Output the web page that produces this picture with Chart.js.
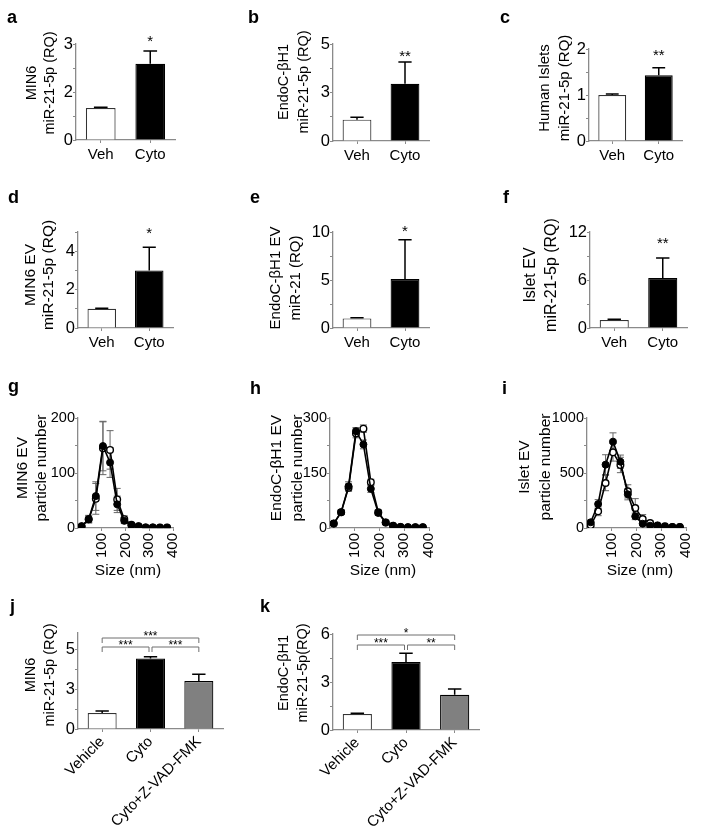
<!DOCTYPE html>
<html><head><meta charset="utf-8">
<script src="https://cdn.jsdelivr.net/npm/chart.js@4.4.1/dist/chart.umd.min.js"></script>
<style>
html,body{margin:0;padding:0;background:#fff}
body{width:704px;height:835px;position:relative;overflow:hidden;font-family:"Liberation Sans",Arial,sans-serif;color:#000}
.box{position:absolute}
.box canvas{display:block}
.lbl{position:absolute;font-weight:bold;font-size:18px;line-height:18px}
.yt{position:absolute;transform:rotate(-90deg);white-space:nowrap;text-align:center}
.xt{position:absolute;white-space:nowrap;text-align:center;transform:translate(-50%,-50%)}
</style></head><body>
<script>
// ---------------- DATA ----------------
const twoGroups = ["Veh", "Cyto"];
const threeGroups = ["Vehicle", "Cyto", "Cyto+Z-VAD-FMK"];

// a: MIN6
const min6Val = [1.0, 2.38];
const min6Err = [0.02, 0.40];
// b: EndoC-βH1
const endoVal = [1.1, 2.95];
const endoErr = [0.12, 1.12];
// c: Human islets
const isletVal = [1.0, 1.43];
const isletErr = [0.02, 0.16];
// d: MIN6 EV
const min6EvVal = [1.0, 3.0];
const min6EvErr = [0.03, 1.2];
// e: EndoC-βH1 EV
const endoEvVal = [1.0, 5.1];
const endoEvErr = [0.08, 4.1];
// f: Islet EV
const isletEvVal = [1.0, 6.25];
const isletEvErr = [0.1, 2.5];

// g-i: particle size distribution
const sizeBins = [15, 45, 75, 105, 135, 165, 195, 225, 255, 285, 315, 345, 375];
const gCyto    = [3, 16, 58, 149, 119, 43, 13, 5, 3, 1, 1, 0.5, 0.5];
const gCytoErr = [2, 6, 26, 45, 27, 15, 5, 2, 1, 0.5, 0.5, 0.3, 0.3];
const gVeh     = [3, 16, 53, 145, 142, 52, 16, 6, 3, 1, 1, 1, 1];
const gVehErr  = [2, 7, 28, 48, 35, 20, 6, 3, 1, 0.5, 0.5, 0.3, 0.3];
const hCyto    = [12, 43, 114, 264, 228, 107, 41, 15, 6, 3, 2, 2, 2];
const hCytoErr = [4, 6, 12, 10, 12, 10, 6, 4, 2, 1, 1, 1, 1];
const hVeh     = [12, 43, 110, 258, 271, 125, 43, 15, 6, 3, 2, 2, 2];
const hVehErr  = [4, 6, 10, 12, 10, 8, 6, 4, 2, 1, 1, 1, 1];
const iCyto    = [52, 218, 576, 785, 603, 306, 106, 39, 21, 21, 12, 9, 9];
const iCytoErr = [20, 40, 90, 80, 60, 50, 30, 15, 8, 6, 5, 4, 4];
const iVeh     = [27, 152, 409, 688, 573, 333, 182, 82, 45, 22, 15, 10, 8];
const iVehErr  = [15, 40, 70, 80, 70, 60, 85, 40, 20, 10, 6, 5, 4];

// j, k: caspase inhibition
const jVal = [1.0, 4.4, 3.0];
const jErr = [0.12, 0.12, 0.42];
const kVal = [1.0, 4.25, 2.2];
const kErr = [0.05, 0.55, 0.36];

// significance
const starsA = ["", "*"], starsB = ["", "**"], starsC = ["", "**"];
const starsD = ["", "*"], starsE = ["", "*"], starsF = ["", "**"];
const jBrackets = [[0, 2, "***", 1], [0, 1, "***", 0], [1, 2, "***", 0]];
const kBrackets = [[0, 2, "*", 1], [0, 1, "***", 0], [1, 2, "**", 0]];

// ticks
const ticksA = [0, 0.75, 1.5, 2.25, 3],   labA = ["0", "", "2", "", "3"];
const ticksB = [0, 1.25, 2.5, 3.75, 5],   labB = ["0", "", "3", "", "5"];
const ticksC = [0, 0.5, 1, 1.5, 2],       labC = ["0", "", "1", "", "2"];
const ticksD = [0, 1, 2, 3, 4, 5],        labD = ["0", "", "2", "", "4", ""];
const ticksE = [0, 2.5, 5, 7.5, 10],      labE = ["0", "", "5", "", "10"];
const ticksF = [0, 3, 6, 9, 12],          labF = ["0", "", "6", "", "12"];
const ticksG = [0, 50, 100, 150, 200],    labG = ["0", "", "100", "", "200"];
const ticksH = [0, 75, 150, 225, 300],    labH = ["0", "", "150", "", "300"];
const ticksI = [0, 250, 500, 750, 1000],  labI = ["0", "", "500", "", "1000"];
const ticksJ = [0, 1.25, 2.5, 3.75, 5],   labJ = ["0", "", "3", "", "5"];
const ticksK = [0, 1.5, 3, 4.5, 6],       labK = ["0", "", "3", "", "6"];
const sizeTicks = [100, 200, 300, 400];

// ---------------- STYLE / HELPERS ----------------
Chart.defaults.font.family = '"Liberation Sans", Arial, sans-serif';
Chart.defaults.color = '#000';
const AX = '#8a8a8a';
const FONT = '"Liberation Sans", Arial, sans-serif';

function yScale(max, ticks, labels, size) {
  return {
    type: 'linear', min: 0, max: max,
    afterBuildTicks: s => { s.ticks = ticks.map(v => ({ value: v })); },
    ticks: { autoSkip: false, padding: 0, font: { size: size }, color: '#000',
      callback: (v, i) => (labels[i] !== undefined ? labels[i] : '') },
    grid: { drawOnChartArea: false, tickLength: 3, color: AX, lineWidth: 1 },
    border: { color: AX, width: 1.3 }
  };
}
function xCat(size, rot) {
  return {
    type: 'category', offset: true,
    ticks: { font: { size: size }, padding: rot ? 1 : 3, autoSkip: false, maxRotation: rot, minRotation: rot, color: '#000' },
    grid: { drawOnChartArea: false, tickLength: 3, color: AX, offset: false },
    border: { color: AX, width: 1.3 }
  };
}
function xSize() {
  return {
    type: 'linear', min: 0, max: 400,
    afterBuildTicks: s => { s.ticks = sizeTicks.map(v => ({ value: v })); },
    ticks: { font: { size: 15 }, padding: 2, autoSkip: false, maxRotation: 90, minRotation: 90, color: '#000' },
    grid: { drawOnChartArea: false, tickLength: 3, color: AX },
    border: { color: AX, width: 1.3 }
  };
}

function mount(x0, y0, x1, y1, xh, cfg) {
  const YW = 44, PT = 20, PR = 14;
  const div = document.createElement('div');
  div.className = 'box';
  div.style.left = (x0 - YW) + 'px';
  div.style.top = (y0 - PT) + 'px';
  div.style.width = (x1 - x0 + YW + PR) + 'px';
  div.style.height = (y1 - y0 + PT + xh) + 'px';
  const c = document.createElement('canvas');
  div.appendChild(c);
  document.body.appendChild(div);
  cfg.options.responsive = true;
  cfg.options.maintainAspectRatio = false;
  cfg.options.animation = false;
  cfg.options.events = [];
  cfg.options.layout = { padding: { top: PT, right: PR, left: 0, bottom: 0 } };
  cfg.options.plugins = Object.assign({ legend: { display: false }, tooltip: { enabled: false } }, cfg.options.plugins || {});
  cfg.options.scales.y.afterFit = s => { s.width = YW; };
  cfg.options.scales.x.afterFit = s => { s.height = xh; };
  return new Chart(c, cfg);
}

// error bars + stars for bar charts
function barExtras(errs, stars, starGap, starSize) {
  return {
    id: 'barExtras',
    afterDatasetsDraw(chart) {
      const ctx = chart.ctx, ys = chart.scales.y;
      const meta = chart.getDatasetMeta(0);
      const vals = chart.data.datasets[0].data;
      ctx.save();
      ctx.strokeStyle = '#000';
      ctx.lineWidth = 1.5;
      meta.data.forEach((el, i) => {
        const v = vals[i], e = errs[i];
        const yv = ys.getPixelForValue(v), yt = ys.getPixelForValue(v + e);
        const cw = el.width * 0.46;
        ctx.beginPath();
        ctx.moveTo(el.x, yv); ctx.lineTo(el.x, yt);
        ctx.moveTo(el.x - cw / 2, yt); ctx.lineTo(el.x + cw / 2, yt);
        ctx.stroke();
        if (stars && stars[i]) {
          ctx.fillStyle = '#000';
          ctx.font = starSize + 'px ' + FONT;
          ctx.textAlign = 'center';
          ctx.textBaseline = 'alphabetic';
          ctx.fillText(stars[i], el.x, yt - starGap + 0.575 * starSize);
        }
      });
      ctx.restore();
    }
  };
}

// significance brackets
function bracketsPlugin(list, levelY, tickLen, starSize) {
  return {
    id: 'brackets',
    afterDatasetsDraw(chart) {
      const ctx = chart.ctx, xs = chart.scales.x, top = chart.chartArea.top;
      ctx.save();
      ctx.strokeStyle = '#6f6f6f';
      ctx.lineWidth = 1;
      list.forEach(b => {
        const xa = xs.getPixelForValue(b[0]) + (b[3] === 0 && b[0] > 0 ? 1.5 : 0);
        const xb = xs.getPixelForValue(b[1]) - (b[3] === 0 && b[1] < list.length - 1 ? 1.5 : 0);
        const y = top + levelY[b[3]];
        ctx.beginPath();
        ctx.moveTo(xa, y + tickLen); ctx.lineTo(xa, y); ctx.lineTo(xb, y); ctx.lineTo(xb, y + tickLen);
        ctx.stroke();
        ctx.fillStyle = '#000';
        ctx.font = starSize + 'px ' + FONT;
        ctx.textAlign = 'center';
        ctx.textBaseline = 'alphabetic';
        ctx.fillText(b[2], (xa + xb) / 2, y - 2 + 0.575 * starSize - 3);
      });
      ctx.restore();
    }
  };
}

// error bars for line charts (drawn beneath points)
function lineErrs(errSets) {
  return {
    id: 'lineErrs',
    beforeDatasetsDraw(chart) {
      const ctx = chart.ctx, ys = chart.scales.y;
      ctx.save();
      ctx.strokeStyle = '#666';
      ctx.lineWidth = 1;
      chart.data.datasets.forEach((ds, di) => {
        const meta = chart.getDatasetMeta(di);
        const errs = errSets[di];
        meta.data.forEach((el, i) => {
          const v = ds.data[i].y, e = errs[i];
          const y1 = ys.getPixelForValue(v + e), y2 = ys.getPixelForValue(v - e);
          const cw = 7;
          ctx.beginPath();
          ctx.moveTo(el.x, y1); ctx.lineTo(el.x, y2);
          ctx.moveTo(el.x - cw / 2, y1); ctx.lineTo(el.x + cw / 2, y1);
          ctx.moveTo(el.x - cw / 2, y2); ctx.lineTo(el.x + cw / 2, y2);
          ctx.stroke();
        });
      });
      ctx.restore();
    }
  };
}

function barChart(box, labels, vals, errs, max, ticks, tlabs, stars, starGap, opts) {
  opts = opts || {};
  const fills = opts.fills || ['#ffffff', '#000000'];
  const borders = opts.borders || ['#333333', '#000000'];
  const plugins = [barExtras(errs, stars, starGap, opts.starSize || 15)];
  if (opts.brackets) plugins.push(bracketsPlugin(opts.brackets, opts.levelY, 5, opts.brSize || 12));
  return mount(box[0], box[1], box[2], box[3], opts.xh || 28, {
    type: 'bar',
    data: { labels: labels, datasets: [{ data: vals, backgroundColor: fills, borderColor: borders,
      borderWidth: 1.2, barPercentage: opts.bp || 0.6, categoryPercentage: 1 }] },
    options: { scales: { x: xCat(opts.xs || 15, opts.rot || 0), y: yScale(max, ticks, tlabs, opts.ys || 16.5) } },
    plugins: plugins
  });
}

function sizeChart(box, cyto, cytoErr, veh, vehErr, max, ticks, tlabs) {
  const pts = arr => sizeBins.map((x, i) => ({ x: x, y: arr[i] }));
  return mount(box[0], box[1], box[2], box[3], 36, {
    type: 'line',
    data: { datasets: [
      { data: pts(cyto), borderColor: '#000', backgroundColor: '#000', borderWidth: 1.6,
        pointRadius: 3.5, pointBackgroundColor: '#000', pointBorderColor: '#000', pointBorderWidth: 1, tension: 0 },
      { data: pts(veh), borderColor: '#000', backgroundColor: '#fff', borderWidth: 1.6,
        pointRadius: 3.3, pointBackgroundColor: '#fff', pointBorderColor: '#000', pointBorderWidth: 1.4, tension: 0 }
    ] },
    options: { scales: { x: xSize(), y: yScale(max, ticks, tlabs, 14.5) } },
    plugins: [lineErrs([cytoErr, vehErr])]
  });
}

// ---------------- CHARTS ----------------
barChart([76, 44, 175, 140], twoGroups, min6Val, min6Err, 3, ticksA, labA, starsA, 14);
barChart([333, 44, 429, 141], twoGroups, endoVal, endoErr, 5, ticksB, labB, starsB, 10);
barChart([589, 49, 682, 141], twoGroups, isletVal, isletErr, 2, ticksC, labC, starsC, 16);
barChart([78, 232, 173, 328], twoGroups, min6EvVal, min6EvErr, 5, ticksD, labD, starsD, 18);
barChart([333, 232, 429, 328], twoGroups, endoEvVal, endoEvErr, 10, ticksE, labE, starsE, 12);
barChart([590, 232, 687, 328], twoGroups, isletEvVal, isletEvErr, 12, ticksF, labF, starsF, 19);

sizeChart([78, 418, 179, 528], gCyto, gCytoErr, gVeh, gVehErr, 200, ticksG, labG);
sizeChart([330, 418, 435, 528], hCyto, hCytoErr, hVeh, hVehErr, 300, ticksH, labH);
sizeChart([587, 418, 692, 528], iCyto, iCytoErr, iVeh, iVehErr, 1000, ticksI, labI);

barChart([78, 633, 223, 729], threeGroups, jVal, jErr, 6, ticksJ, labJ, null, 0,
  { fills: ['#ffffff', '#000000', '#808080'], borders: ['#333333', '#000000', '#000000'],
    rot: 45, xh: 104, brackets: jBrackets, levelY: [14, 5], brSize: 12 });
barChart([333, 634, 479, 730], threeGroups, kVal, kErr, 6, ticksK, labK, null, 0,
  { fills: ['#ffffff', '#000000', '#808080'], borders: ['#333333', '#000000', '#000000'],
    rot: 45, xh: 104, brackets: kBrackets, levelY: [11, 1], brSize: 12 });

// ---------------- TEXT (titles, panel letters) ----------------
function yTitle(cx, cy, lines, size, lh) {
  const d = document.createElement('div');
  d.className = 'yt';
  d.style.fontSize = size + 'px';
  d.style.lineHeight = lh + 'px';
  d.innerHTML = lines.join('<br>');
  document.body.appendChild(d);
  const w = d.offsetWidth, h = d.offsetHeight;
  d.style.left = (cx - w / 2) + 'px';
  d.style.top = (cy - h / 2) + 'px';
}
function xTitle(cx, cy, text, size) {
  const d = document.createElement('div');
  d.className = 'xt';
  d.style.fontSize = size + 'px';
  d.style.left = cx + 'px';
  d.style.top = cy + 'px';
  d.textContent = text;
  document.body.appendChild(d);
}
function letter(x, baseline, t) {
  const d = document.createElement('div');
  d.className = 'lbl';
  d.style.left = x + 'px';
  d.style.top = (baseline - 15.3) + 'px';
  d.textContent = t;
  document.body.appendChild(d);
}

yTitle(39, 83, ["MIN6", "miR-21-5p (RQ)"], 14.5, 18);
yTitle(292, 82, ["EndoC-\u03B2H1", "miR-21-5p (RQ)"], 14.5, 20);
yTitle(554, 88, ["Human Islets", "miR-21-5p (RQ)"], 15, 20);
yTitle(39, 275, ["MIN6 EV", "miR-21-5p (RQ)"], 15.5, 18);
yTitle(285, 278, ["EndoC-\u03B2H1 EV", "miR-21 (RQ)"], 15, 20);
yTitle(540, 275, ["Islet EV", "miR-21-5p (RQ)"], 16, 21);
yTitle(31.5, 468, ["MIN6 EV", "particle number"], 15.5, 19);
yTitle(286, 468, ["EndoC-\u03B2H1 EV", "particle number"], 15.5, 21);
yTitle(534, 467, ["Islet EV", "particle number"], 15.5, 21);
yTitle(39.5, 675, ["MIN6", "miR-21-5p (RQ)"], 14.5, 19);
yTitle(292.5, 673, ["EndoC-\u03B2H1", "miR-21-5p(RQ)"], 14.5, 19);

xTitle(128, 570, "Size (nm)", 15.5);
xTitle(383, 570, "Size (nm)", 15.5);
xTitle(640, 570, "Size (nm)", 15.5);

letter(7, 23, "a"); letter(248, 23, "b"); letter(500, 23, "c");
letter(8, 203, "d"); letter(250, 203, "e"); letter(503, 203, "f");
letter(8, 392, "g"); letter(250, 394, "h"); letter(502, 394, "i");
letter(10, 612, "j"); letter(260, 612, "k");
</script>
</body></html>
